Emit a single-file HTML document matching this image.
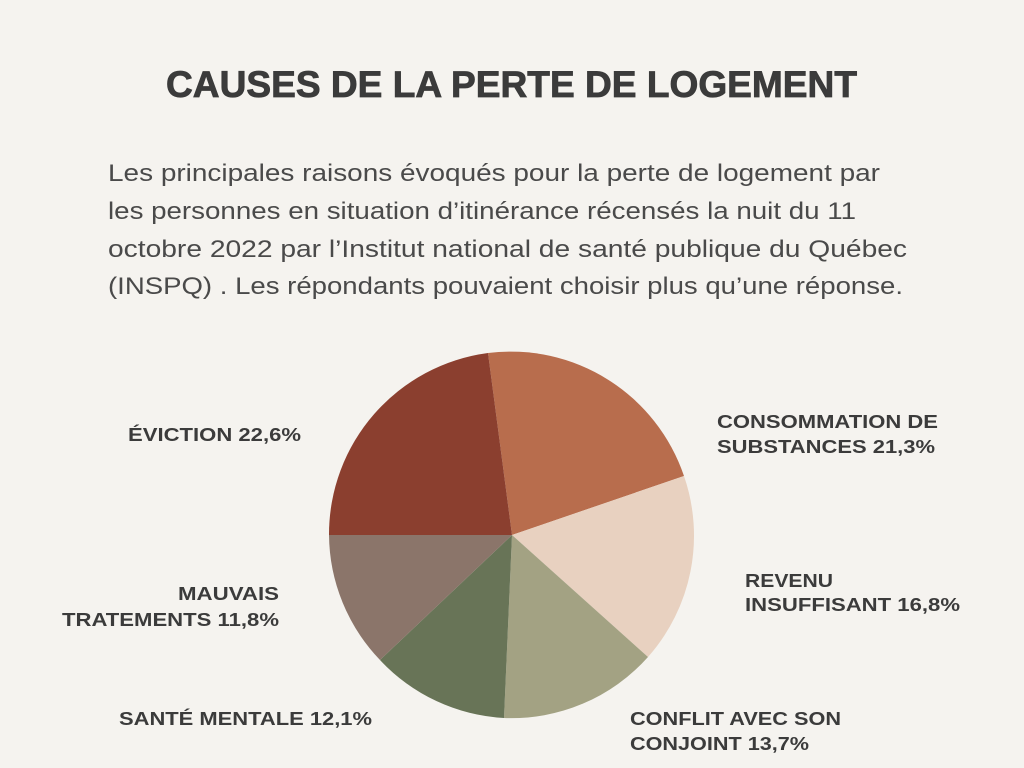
<!DOCTYPE html>
<html><head><meta charset="utf-8"><style>
html,body{margin:0;padding:0;background:#f5f3ef;}
svg{display:block;}
</style></head><body>
<svg width="1024" height="768" viewBox="0 0 1024 768" xmlns="http://www.w3.org/2000/svg">
<rect width="1024" height="768" fill="#f5f3ef"/>
<text x="166" y="97" font-family="Liberation Sans, sans-serif" font-weight="bold" font-size="37" fill="#3b3b3b" stroke="#3b3b3b" stroke-width="0.8" textLength="691" lengthAdjust="spacingAndGlyphs">CAUSES DE LA PERTE DE LOGEMENT</text>
<g font-family="Liberation Sans, sans-serif" font-size="24" fill="#4a4a4a">
<text x="108" y="181" textLength="772" lengthAdjust="spacingAndGlyphs">Les principales raisons évoqués pour la perte de logement par</text>
<text x="108" y="219" textLength="748" lengthAdjust="spacingAndGlyphs">les personnes en situation d’itinérance récensés la nuit du 11</text>
<text x="108" y="257" textLength="799" lengthAdjust="spacingAndGlyphs">octobre 2022 par l’Institut national de santé publique du Québec</text>
<text x="108" y="294" textLength="795" lengthAdjust="spacingAndGlyphs">(INSPQ) . Les répondants pouvaient choisir plus qu’une réponse.</text>
</g>
<g>
<path d="M512,535 L488,353 A183,183 0 0 1 684,476 Z" fill="#b86d4d"/>
<path d="M512,535 L684,476 A183,183 0 0 1 648,657 Z" fill="#e8d1c0"/>
<path d="M512,535 L648,657 A183,183 0 0 1 504,718 Z" fill="#a3a283"/>
<path d="M512,535 L504,718 A183,183 0 0 1 380,660 Z" fill="#687457"/>
<path d="M512,535 L380,660 A183,183 0 0 1 329,535 Z" fill="#8b756a"/>
<path d="M512,535 L329,535 A183,183 0 0 1 488,353 Z" fill="#8b3f2f"/>
</g>
<g font-family="Liberation Sans, sans-serif" font-weight="bold" font-size="18" fill="#3b3b3b">
<text x="128" y="441" textLength="173" lengthAdjust="spacingAndGlyphs">ÉVICTION 22,6%</text>
<text x="717" y="428" textLength="221" lengthAdjust="spacingAndGlyphs">CONSOMMATION DE</text>
<text x="717" y="453" textLength="218" lengthAdjust="spacingAndGlyphs">SUBSTANCES 21,3%</text>
<text x="745" y="587" textLength="88" lengthAdjust="spacingAndGlyphs">REVENU</text>
<text x="745" y="611" textLength="215" lengthAdjust="spacingAndGlyphs">INSUFFISANT 16,8%</text>
<text x="630" y="725" textLength="211" lengthAdjust="spacingAndGlyphs">CONFLIT AVEC SON</text>
<text x="630" y="750" textLength="179" lengthAdjust="spacingAndGlyphs">CONJOINT 13,7%</text>
<text x="119" y="725" textLength="253" lengthAdjust="spacingAndGlyphs">SANTÉ MENTALE 12,1%</text>
<text x="178" y="600" textLength="101" lengthAdjust="spacingAndGlyphs">MAUVAIS</text>
<text x="62" y="626" textLength="217" lengthAdjust="spacingAndGlyphs">TRATEMENTS 11,8%</text>
</g>
</svg>
</body></html>
